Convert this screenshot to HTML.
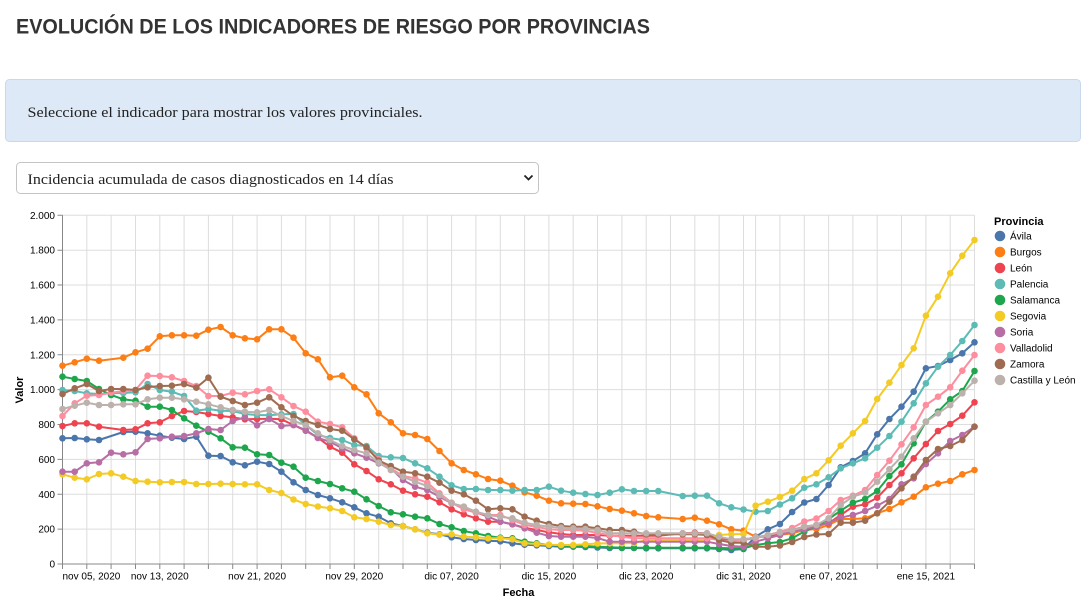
<!DOCTYPE html>
<html><head><meta charset="utf-8"><style>
html,body{margin:0;padding:0;background:#fff;}
svg{display:block;}
.ax{font-family:"Liberation Sans",Arial,sans-serif;font-size:10px;fill:#000;}
.ttl{font-family:"Liberation Sans",Arial,sans-serif;font-size:11px;font-weight:bold;fill:#000;}
.ln{fill:none;stroke-width:2;stroke-linejoin:round;stroke-linecap:round;}
</style></head><body>
<svg width="1087" height="601" viewBox="0 0 1087 601" xmlns="http://www.w3.org/2000/svg">
<defs>
<marker id="m0" viewBox="0 0 8 8" refX="4" refY="4" markerWidth="8" markerHeight="8" markerUnits="userSpaceOnUse"><circle cx="4" cy="4" r="3.3" fill="#4a76ab"/></marker>
<marker id="m1" viewBox="0 0 8 8" refX="4" refY="4" markerWidth="8" markerHeight="8" markerUnits="userSpaceOnUse"><circle cx="4" cy="4" r="3.3" fill="#fd7e14"/></marker>
<marker id="m2" viewBox="0 0 8 8" refX="4" refY="4" markerWidth="8" markerHeight="8" markerUnits="userSpaceOnUse"><circle cx="4" cy="4" r="3.3" fill="#ef4450"/></marker>
<marker id="m3" viewBox="0 0 8 8" refX="4" refY="4" markerWidth="8" markerHeight="8" markerUnits="userSpaceOnUse"><circle cx="4" cy="4" r="3.3" fill="#5cbcb5"/></marker>
<marker id="m4" viewBox="0 0 8 8" refX="4" refY="4" markerWidth="8" markerHeight="8" markerUnits="userSpaceOnUse"><circle cx="4" cy="4" r="3.3" fill="#1ea64c"/></marker>
<marker id="m5" viewBox="0 0 8 8" refX="4" refY="4" markerWidth="8" markerHeight="8" markerUnits="userSpaceOnUse"><circle cx="4" cy="4" r="3.3" fill="#f4cb25"/></marker>
<marker id="m6" viewBox="0 0 8 8" refX="4" refY="4" markerWidth="8" markerHeight="8" markerUnits="userSpaceOnUse"><circle cx="4" cy="4" r="3.3" fill="#b86ea5"/></marker>
<marker id="m7" viewBox="0 0 8 8" refX="4" refY="4" markerWidth="8" markerHeight="8" markerUnits="userSpaceOnUse"><circle cx="4" cy="4" r="3.3" fill="#fe8d9e"/></marker>
<marker id="m8" viewBox="0 0 8 8" refX="4" refY="4" markerWidth="8" markerHeight="8" markerUnits="userSpaceOnUse"><circle cx="4" cy="4" r="3.3" fill="#a06c51"/></marker>
<marker id="m9" viewBox="0 0 8 8" refX="4" refY="4" markerWidth="8" markerHeight="8" markerUnits="userSpaceOnUse"><circle cx="4" cy="4" r="3.3" fill="#bcb1ac"/></marker>
</defs>

<!-- Header -->
<text x="16" y="33.3" font-family="'Liberation Sans',Arial,sans-serif" font-size="21" font-weight="bold" fill="#333" textLength="634" lengthAdjust="spacingAndGlyphs">EVOLUCIÓN DE LOS INDICADORES DE RIESGO POR PROVINCIAS</text>

<rect x="5.5" y="79.5" width="1075" height="62" rx="4" fill="#dde9f6" stroke="#c8d9ec"/>
<text x="27.5" y="117" font-family="'Liberation Serif',Georgia,serif" font-size="15" fill="#222" textLength="395" lengthAdjust="spacingAndGlyphs">Seleccione el indicador para mostrar los valores provinciales.</text>

<rect x="16.5" y="162.5" width="522" height="31" rx="4" fill="#fff" stroke="#c4c4c4"/>
<text x="27.5" y="184" font-family="'Liberation Serif',Georgia,serif" font-size="15" fill="#222" textLength="366" lengthAdjust="spacingAndGlyphs">Incidencia acumulada de casos diagnosticados en 14 días</text>
<path d="M524.5,175.5 L528.5,179.5 L532.5,175.5" fill="none" stroke="#222" stroke-width="1.8"/>

<!-- Grid -->
<g stroke="#ddd" stroke-width="1" fill="none">
<path d="M62.5,529.1H974.5M62.5,494.3H974.5M62.5,459.4H974.5M62.5,424.5H974.5M62.5,389.6H974.5M62.5,354.8H974.5M62.5,319.9H974.5M62.5,285H974.5M62.5,250.2H974.5M62.5,215.3H974.5"/>
<path d="M86.8,215.3V564M111.1,215.3V564M135.5,215.3V564M159.8,215.3V564M184.1,215.3V564M208.4,215.3V564M232.7,215.3V564M257.1,215.3V564M281.4,215.3V564M305.7,215.3V564M330,215.3V564M354.3,215.3V564M378.7,215.3V564M403,215.3V564M427.3,215.3V564M451.6,215.3V564M475.9,215.3V564M500.3,215.3V564M524.6,215.3V564M548.9,215.3V564M573.2,215.3V564M597.5,215.3V564M621.9,215.3V564M646.2,215.3V564M670.5,215.3V564M694.8,215.3V564M719.1,215.3V564M743.5,215.3V564M755.6,215.3V564M779.9,215.3V564M804.3,215.3V564M828.6,215.3V564M852.9,215.3V564M877.2,215.3V564M901.5,215.3V564M925.9,215.3V564M950.2,215.3V564M974.5,215.3V564"/>
</g>

<!-- Axes -->
<g stroke="#888" stroke-width="1" fill="none">
<path d="M62.5,215.3V564.5M62,564H974.5"/>
<path d="M57.5,564H62.5M57.5,529.1H62.5M57.5,494.3H62.5M57.5,459.4H62.5M57.5,424.5H62.5M57.5,389.6H62.5M57.5,354.8H62.5M57.5,319.9H62.5M57.5,285H62.5M57.5,250.2H62.5M57.5,215.3H62.5"/>
<path d="M62.5,564V569M86.8,564V569M111.1,564V569M135.5,564V569M159.8,564V569M184.1,564V569M208.4,564V569M232.7,564V569M257.1,564V569M281.4,564V569M305.7,564V569M330,564V569M354.3,564V569M378.7,564V569M403,564V569M427.3,564V569M451.6,564V569M475.9,564V569M500.3,564V569M524.6,564V569M548.9,564V569M573.2,564V569M597.5,564V569M621.9,564V569M646.2,564V569M670.5,564V569M694.8,564V569M719.1,564V569M743.5,564V569M755.6,564V569M779.9,564V569M804.3,564V569M828.6,564V569M852.9,564V569M877.2,564V569M901.5,564V569M925.9,564V569M950.2,564V569M974.5,564V569"/>
</g>

<g class="ax" text-anchor="end">
<text x="55" y="567.5">0</text>
<text x="55" y="532.6">200</text>
<text x="55" y="497.8">400</text>
<text x="55" y="462.9">600</text>
<text x="55" y="428">800</text>
<text x="55" y="393.1">1.000</text>
<text x="55" y="358.3">1.200</text>
<text x="55" y="323.4">1.400</text>
<text x="55" y="288.5">1.600</text>
<text x="55" y="253.7">1.800</text>
<text x="55" y="218.8">2.000</text>
</g>
<g class="ax" text-anchor="middle">
<text x="62.5" y="579.5" text-anchor="start">nov 05, 2020</text>
<text x="159.8" y="579.5">nov 13, 2020</text>
<text x="257.1" y="579.5">nov 21, 2020</text>
<text x="354.3" y="579.5">nov 29, 2020</text>
<text x="451.6" y="579.5">dic 07, 2020</text>
<text x="548.9" y="579.5">dic 15, 2020</text>
<text x="646.2" y="579.5">dic 23, 2020</text>
<text x="743.5" y="579.5">dic 31, 2020</text>
<text x="828.6" y="579.5">ene 07, 2021</text>
<text x="925.9" y="579.5">ene 15, 2021</text>
</g>
<text class="ttl" x="518.5" y="596" text-anchor="middle">Fecha</text>
<text class="ttl" transform="translate(23,390) rotate(-90)" text-anchor="middle">Valor</text>

<!-- Series -->
<polyline class="ln" stroke="#4a76ab" marker-start="url(#m0)" marker-mid="url(#m0)" marker-end="url(#m0)" points="62.5,438.3 74.7,438 86.8,439.3 99,440 123.3,432 135.5,431.7 147.6,433.3 159.8,435.7 171.9,437.7 184.1,439 196.3,436.7 208.4,455.7 220.6,456 232.7,462.3 244.9,465.3 257.1,461.7 269.2,464 281.4,471.7 293.5,482.3 305.7,490 317.9,495 330,498.3 342.2,502.3 354.3,507.3 366.5,513.3 378.7,516.7 390.8,523.3 403,526 415.1,529.3 427.3,532.7 439.5,534.3 451.6,537.3 463.8,539 475.9,540 488.1,540.7 500.3,541.3 512.4,543.3 524.6,544.7 536.7,545.3 548.9,546 561.1,546.7 573.2,546.7 585.4,547 597.5,547.5 609.7,548 621.9,548 634,548 646.2,548.3 658.3,548.3 682.7,548.3 694.8,548.3 707,548.3 719.1,549 731.3,550 743.5,549 755.6,536.7 767.8,529.3 779.9,524 792.1,512 804.3,502.5 816.4,499 828.6,485 840.7,467.3 852.9,461 865.1,453.3 877.2,434.3 889.4,419 901.5,406.7 913.7,391.7 925.9,368.3 938,366 950.2,360 962.3,353.3 974.5,342.3"/>
<polyline class="ln" stroke="#fd7e14" marker-start="url(#m1)" marker-mid="url(#m1)" marker-end="url(#m1)" points="62.5,365.7 74.7,362.3 86.8,358.7 99,360.7 123.3,357.7 135.5,352.3 147.6,348.7 159.8,336.3 171.9,335.3 184.1,335.3 196.3,335.7 208.4,329.7 220.6,327 232.7,335.3 244.9,338.3 257.1,339.3 269.2,329.3 281.4,329.3 293.5,337.7 305.7,353.3 317.9,359.3 330,377.3 342.2,375.7 354.3,387.3 366.5,394.3 378.7,413.3 390.8,422.3 403,433.3 415.1,435 427.3,439 439.5,451 451.6,463.3 463.8,470 475.9,474.3 488.1,479 500.3,480.7 512.4,485.7 524.6,492.3 536.7,495.7 548.9,500.7 561.1,503.3 573.2,503.7 585.4,504 597.5,506.3 609.7,509 621.9,510.7 634,513.3 646.2,516 658.3,517.3 682.7,519 694.8,517.7 707,520.7 719.1,524.3 731.3,529.3 743.5,530.7 755.6,536.7 767.8,536.7 779.9,535 792.1,533.3 804.3,530 816.4,529 828.6,525 840.7,519 852.9,519 865.1,518.3 877.2,513.3 889.4,509 901.5,502.3 913.7,496.7 925.9,487.3 938,483.7 950.2,481 962.3,474.3 974.5,470"/>
<polyline class="ln" stroke="#ef4450" marker-start="url(#m2)" marker-mid="url(#m2)" marker-end="url(#m2)" points="62.5,426 74.7,423.3 86.8,423.3 99,426.7 123.3,430 135.5,429.3 147.6,423.3 159.8,422.3 171.9,416 184.1,411 196.3,412 208.4,414 220.6,416 232.7,417.3 244.9,419.3 257.1,419 269.2,418.7 281.4,419.3 293.5,425 305.7,430.7 317.9,437.7 330,446.7 342.2,452.7 354.3,464.3 366.5,471 378.7,479.3 390.8,484.3 403,490.7 415.1,494.3 427.3,496.7 439.5,502.3 451.6,509.3 463.8,514.3 475.9,518.3 488.1,521.7 500.3,521.7 512.4,524.3 524.6,527.7 536.7,530 548.9,532.3 561.1,534 573.2,535 585.4,535 597.5,535 609.7,535.7 621.9,535.7 634,535.7 646.2,535.7 658.3,535.7 682.7,533.3 694.8,532.7 707,533.3 719.1,538.3 731.3,540 743.5,540 755.6,537.3 767.8,536 779.9,534.3 792.1,530 804.3,526.7 816.4,525 828.6,523.3 840.7,515 852.9,506.7 865.1,504.3 877.2,497.7 889.4,485 901.5,473.3 913.7,458.3 925.9,444 938,431 950.2,424 962.3,415.7 974.5,402.3"/>
<polyline class="ln" stroke="#5cbcb5" marker-start="url(#m3)" marker-mid="url(#m3)" marker-end="url(#m3)" points="62.5,390 74.7,391 86.8,393.3 99,394 111.1,393.3 123.3,393 135.5,392.3 147.6,384 159.8,390 171.9,391.7 184.1,396 196.3,410.7 208.4,409 220.6,410.7 232.7,411 244.9,414 257.1,415 269.2,415.3 281.4,414.3 293.5,414 305.7,425 317.9,435 330,438 342.2,440 354.3,445 366.5,446 378.7,456 390.8,457.3 403,458 415.1,463.3 427.3,468.3 439.5,476.7 451.6,485.3 463.8,489 475.9,489 488.1,490 500.3,490 512.4,490.7 524.6,490 536.7,490 548.9,486.7 561.1,490.7 573.2,492.7 585.4,494 597.5,495 609.7,492.7 621.9,489.3 634,491 646.2,491 658.3,491 682.7,496 694.8,495.7 707,495.7 719.1,503.3 731.3,507.3 743.5,509.5 755.6,511.7 767.8,511 779.9,504.5 792.1,498.3 804.3,487.7 816.4,484.3 828.6,477.3 840.7,468.3 852.9,463.3 865.1,458.3 877.2,447.7 889.4,436 901.5,421.7 913.7,403.3 925.9,383.3 938,366.7 950.2,355 962.3,341 974.5,325"/>
<polyline class="ln" stroke="#1ea64c" marker-start="url(#m4)" marker-mid="url(#m4)" marker-end="url(#m4)" points="62.5,376.7 74.7,379 86.8,381 99,389 111.1,395 123.3,399.3 135.5,400.7 147.6,406.7 159.8,406.7 171.9,410 184.1,418.3 196.3,425.7 208.4,431.7 220.6,438.3 232.7,447.3 244.9,447.7 257.1,454.3 269.2,455 281.4,462.7 293.5,466.7 305.7,477.7 317.9,481 330,484 342.2,488.3 354.3,491.7 366.5,499.3 378.7,506 390.8,512.3 403,514.3 415.1,516.7 427.3,518.3 439.5,524 451.6,527.3 463.8,531 475.9,533.3 488.1,536 500.3,537.7 512.4,538.3 524.6,541.7 536.7,543.3 548.9,545 561.1,545.7 573.2,546 585.4,546 597.5,546.7 609.7,547.3 621.9,547.7 634,547.7 646.2,547.7 658.3,547.7 682.7,547.7 694.8,547.7 707,547.7 719.1,548 731.3,548.3 743.5,548.3 755.6,545 767.8,543.3 779.9,542 792.1,538.3 804.3,531.5 816.4,526.5 828.6,519 840.7,510.7 852.9,502.7 865.1,499 877.2,491 889.4,476 901.5,464.3 913.7,443.3 925.9,421.7 938,411.7 950.2,399.3 962.3,391 974.5,371"/>
<polyline class="ln" stroke="#f4cb25" marker-start="url(#m5)" marker-mid="url(#m5)" marker-end="url(#m5)" points="62.5,474.3 74.7,477.7 86.8,479.3 99,474 111.1,473.3 123.3,476.7 135.5,481 147.6,481.7 159.8,482.3 171.9,482 184.1,482 196.3,484 208.4,484 220.6,483.7 232.7,484 244.9,484.3 257.1,484.3 269.2,490 281.4,493 293.5,499.5 305.7,504 317.9,506.5 330,508.3 342.2,511 354.3,517.3 366.5,519 378.7,521.7 390.8,525 403,526 415.1,529.3 427.3,533.3 439.5,534.7 451.6,534.3 463.8,536.7 475.9,537.3 488.1,538.3 500.3,538.3 512.4,539.3 524.6,543.3 536.7,544 548.9,544.7 561.1,545 573.2,545 585.4,544.3 597.5,543.5 609.7,543.3 621.9,543.3 634,543 646.2,540 658.3,540 682.7,540 694.8,540 707,540 719.1,535 731.3,534.3 743.5,534 755.6,505.7 767.8,501.7 779.9,497 792.1,490.7 804.3,479 816.4,473.3 828.6,460.3 840.7,445.7 852.9,433.3 865.1,421 877.2,399 889.4,382.7 901.5,365 913.7,348.3 925.9,315.7 938,296.7 950.2,273.3 962.3,255.7 974.5,240"/>
<polyline class="ln" stroke="#b86ea5" marker-start="url(#m6)" marker-mid="url(#m6)" marker-end="url(#m6)" points="62.5,471.7 74.7,471.7 86.8,463.3 99,462.3 111.1,452.7 123.3,454.3 135.5,452.3 147.6,439 159.8,438.3 171.9,436.7 184.1,436 196.3,433.3 208.4,429 220.6,430 232.7,421 244.9,417.3 257.1,425.3 269.2,419 281.4,426 293.5,425 305.7,430 317.9,438 330,441.7 342.2,448.3 354.3,453.3 366.5,457.7 378.7,463.3 390.8,468.3 403,480 415.1,486.7 427.3,490 439.5,496.7 451.6,503.3 463.8,506.7 475.9,512.3 488.1,516.7 500.3,521.7 512.4,524.3 524.6,528.3 536.7,532.7 548.9,536 561.1,536.7 573.2,536.7 585.4,536.7 597.5,538 609.7,541.7 621.9,541.7 634,541.7 646.2,541.7 658.3,541.7 682.7,541.7 694.8,541.7 707,541.7 719.1,544 731.3,546 743.5,546.7 755.6,541.7 767.8,538.3 779.9,535 792.1,531.7 804.3,529.3 816.4,526.7 828.6,522.7 840.7,517.7 852.9,515 865.1,511 877.2,505.7 889.4,499 901.5,484.3 913.7,478.3 925.9,464 938,453.3 950.2,441 962.3,435 974.5,426.7"/>
<polyline class="ln" stroke="#fe8d9e" marker-start="url(#m7)" marker-mid="url(#m7)" marker-end="url(#m7)" points="62.5,416 74.7,403.3 86.8,395.7 99,395 111.1,392.7 123.3,391 135.5,390 147.6,375.7 159.8,376 171.9,377.3 184.1,381 196.3,386 208.4,396 220.6,396 232.7,392.7 244.9,394.3 257.1,391 269.2,389.3 281.4,397.3 293.5,406 305.7,411.7 317.9,421.7 330,424 342.2,427.3 354.3,438.3 366.5,448.3 378.7,459.3 390.8,468.3 403,476 415.1,478.3 427.3,482.7 439.5,493.3 451.6,502.7 463.8,509.3 475.9,512.7 488.1,515 500.3,515 512.4,520 524.6,525 536.7,526.7 548.9,529.3 561.1,530 573.2,530 585.4,530.7 597.5,533 609.7,535 621.9,536.7 634,538.3 646.2,538.3 658.3,538.3 682.7,538.3 694.8,538.3 707,538.3 719.1,540 731.3,541.7 743.5,540 755.6,538.3 767.8,535 779.9,532 792.1,528 804.3,521.5 816.4,518.5 828.6,511 840.7,500 852.9,495.7 865.1,490 877.2,475 889.4,460.7 901.5,444.3 913.7,427.3 925.9,405 938,396.7 950.2,387.3 962.3,370.7 974.5,355"/>
<polyline class="ln" stroke="#a06c51" marker-start="url(#m8)" marker-mid="url(#m8)" marker-end="url(#m8)" points="62.5,394 74.7,388.3 86.8,384 99,391 111.1,389 123.3,389 135.5,390 147.6,387.3 159.8,386 171.9,385.7 184.1,384 196.3,387.7 208.4,377.7 220.6,396.7 232.7,401 244.9,405 257.1,402.7 269.2,397.3 281.4,407.3 293.5,416 305.7,421 317.9,425 330,429 342.2,430.7 354.3,439.3 366.5,447.3 378.7,460.7 390.8,466 403,471.7 415.1,473.3 427.3,476.7 439.5,482.7 451.6,490.7 463.8,494.3 475.9,500.7 488.1,509.3 500.3,508.3 512.4,509.3 524.6,516.7 536.7,520.7 548.9,524 561.1,526 573.2,526.7 585.4,526.7 597.5,528.3 609.7,530 621.9,530 634,531.7 646.2,534.3 658.3,534.3 682.7,534.3 694.8,534.3 707,535 719.1,540 731.3,542.7 743.5,542.7 755.6,546.7 767.8,546.7 779.9,545.5 792.1,542 804.3,537 816.4,534.5 828.6,534 840.7,522.7 852.9,522.7 865.1,520.7 877.2,513.3 889.4,501.7 901.5,488.3 913.7,476.7 925.9,460 938,449 950.2,446 962.3,440 974.5,426.7"/>
<polyline class="ln" stroke="#bcb1ac" marker-start="url(#m9)" marker-mid="url(#m9)" marker-end="url(#m9)" points="62.5,409 74.7,405.7 86.8,402.7 99,405 111.1,405 123.3,404.3 135.5,404.3 147.6,399.3 159.8,397.7 171.9,397.7 184.1,399.3 196.3,401.7 208.4,404.3 220.6,407.3 232.7,410 244.9,411.7 257.1,412.3 269.2,410 281.4,416 293.5,421 305.7,425 317.9,433.3 330,440 342.2,446 354.3,450 366.5,453.3 378.7,462.7 390.8,470 403,476.7 415.1,481.7 427.3,486 439.5,495 451.6,503.3 463.8,506.7 475.9,511.7 488.1,515 500.3,516.7 512.4,518.3 524.6,522.7 536.7,525 548.9,526.7 561.1,527.7 573.2,528.3 585.4,529 597.5,530 609.7,533.3 621.9,533.3 634,533.3 646.2,533.3 658.3,533.3 682.7,533.3 694.8,533.3 707,533.3 719.1,536.7 731.3,539.3 743.5,539.3 755.6,537.3 767.8,535 779.9,532.5 792.1,530.3 804.3,526.7 816.4,525 828.6,518.3 840.7,505 852.9,496.7 865.1,492.7 877.2,481.7 889.4,469.3 901.5,456.7 913.7,438.3 925.9,421.7 938,413.3 950.2,405 962.3,393.3 974.5,380.7"/>

<!-- Legend -->
<text class="ttl" x="994" y="225">Provincia</text>
<circle cx="1000" cy="236" r="5.3" fill="#4a76ab"/>
<circle cx="1000" cy="252" r="5.3" fill="#fd7e14"/>
<circle cx="1000" cy="268" r="5.3" fill="#ef4450"/>
<circle cx="1000" cy="284" r="5.3" fill="#5cbcb5"/>
<circle cx="1000" cy="300" r="5.3" fill="#1ea64c"/>
<circle cx="1000" cy="316" r="5.3" fill="#f4cb25"/>
<circle cx="1000" cy="332" r="5.3" fill="#b86ea5"/>
<circle cx="1000" cy="348" r="5.3" fill="#fe8d9e"/>
<circle cx="1000" cy="364" r="5.3" fill="#a06c51"/>
<circle cx="1000" cy="380" r="5.3" fill="#bcb1ac"/>
<g class="ax">
<text x="1010" y="239.5">Ávila</text>
<text x="1010" y="255.5">Burgos</text>
<text x="1010" y="271.5">León</text>
<text x="1010" y="287.5">Palencia</text>
<text x="1010" y="303.5">Salamanca</text>
<text x="1010" y="319.5">Segovia</text>
<text x="1010" y="335.5">Soria</text>
<text x="1010" y="351.5">Valladolid</text>
<text x="1010" y="367.5">Zamora</text>
<text x="1010" y="383.5">Castilla y León</text>
</g>
</svg>
</body></html>
